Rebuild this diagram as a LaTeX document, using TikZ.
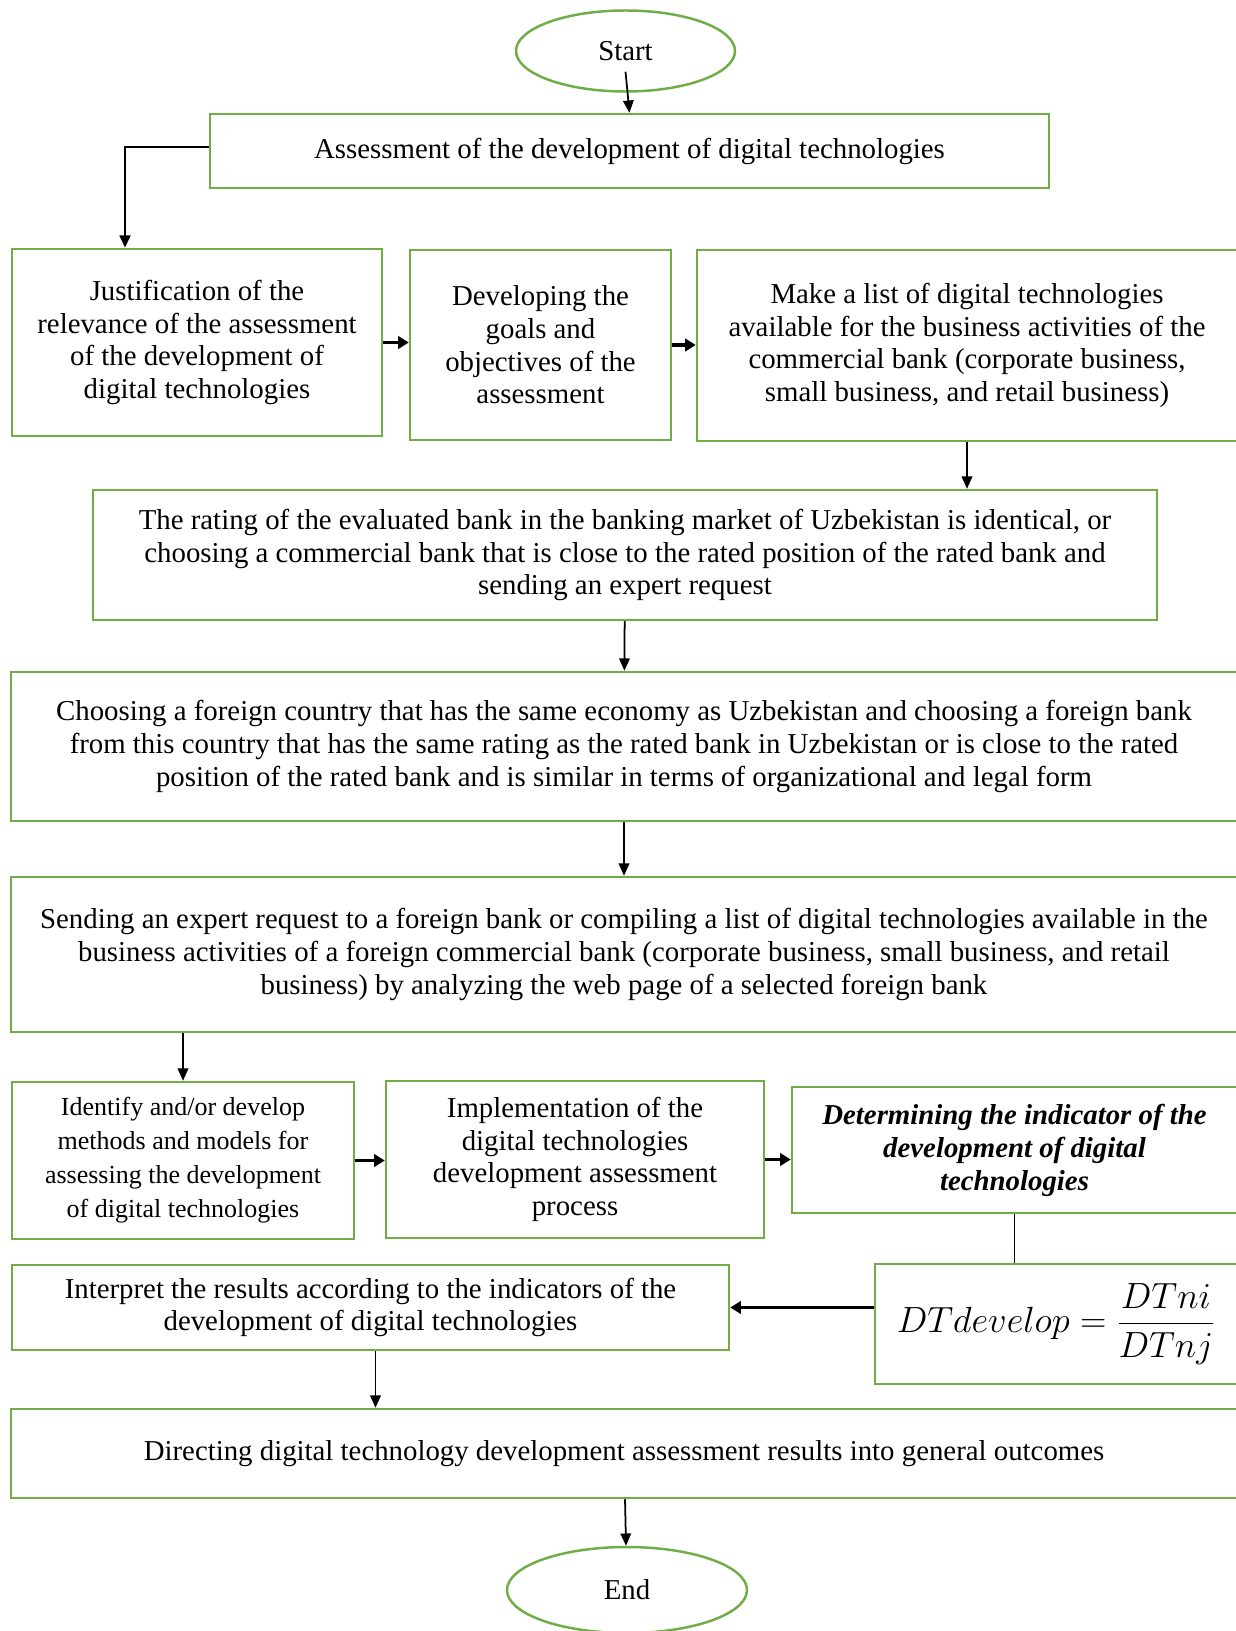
\documentclass[tikz,border=0pt]{standalone}
\usepackage{amsmath}
\usepackage{fontspec}
\setmainfont{Liberation Serif}
\usetikzlibrary{arrows.meta,positioning,shapes.geometric}

\definecolor{boxgreen}{RGB}{112,173,71}

\begin{document}
\begin{tikzpicture}[
  box/.style={draw=boxgreen, line width=1.4pt, align=center,
              font=\fontsize{16.4}{18.6}\selectfont, inner sep=2pt},
  term/.style={ellipse, draw=boxgreen, line width=1.4pt,
               font=\fontsize{16.4}{18.6}\selectfont},
  arr/.style={-{Triangle[length=7pt,width=6pt]}, line width=1pt},
  thickarr/.style={-{Triangle[length=6pt,width=7pt]}, line width=2pt},
  link/.style={line width=0.6pt}
]
  \useasboundingbox (0,0) rectangle (24.7,-32.62);

  \node[term, minimum width=4.38cm, minimum height=1.62cm]
    (start) at (12.51,-1.02) {Start};
  \node[box, minimum width=16.78cm, minimum height=1.48cm]
    (assess) at (12.59,-3.02)
    {Assessment of the development of digital technologies};

  % second row
  \node[box, minimum width=7.4cm, minimum height=3.74cm]
    (just) at (3.94,-6.85)
    {Justification of the\\relevance of the assessment\\of the development of\\digital technologies};
  \node[box, minimum width=5.22cm, minimum height=3.8cm]
    (goals) at (10.81,-6.9)
    {Developing the\\goals and\\objectives of the\\assessment};
  \node[box, minimum width=10.8cm, minimum height=3.82cm]
    (list) at (19.34,-6.91)
    {Make a list of digital technologies\\available for the business activities of the\\commercial bank (corporate business,\\small business, and retail business)};

  \node[box, minimum width=21.28cm, minimum height=2.6cm]
    (rating) at (12.5,-11.1)
    {The rating of the evaluated bank in the banking market of Uzbekistan is identical, or\\choosing a commercial bank that is close to the rated position of the rated bank and\\sending an expert request};
  \node[box, minimum width=24.52cm, minimum height=2.98cm]
    (foreign) at (12.48,-14.93)
    {Choosing a foreign country that has the same economy as Uzbekistan and choosing a foreign bank\\from this country that has the same rating as the rated bank in Uzbekistan or is close to the rated\\position of the rated bank and is similar in terms of organizational and legal form};
  \node[box, minimum width=24.52cm, minimum height=3.1cm]
    (sending) at (12.48,-19.09)
    {Sending an expert request to a foreign bank or compiling a list of digital technologies available in the\\business activities of a foreign commercial bank (corporate business, small business, and retail\\business) by analyzing the web page of a selected foreign bank};

  % fourth row
  \node[box, minimum width=6.84cm, minimum height=3.14cm,
        font=\fontsize{14.8}{19.3}\selectfont]
    (identify) at (3.66,-23.21)
    {Identify and/or develop\\methods and models for\\assessing the development\\of digital technologies};
  \node[box, minimum width=7.56cm, minimum height=3.14cm]
    (impl) at (11.5,-23.19)
    {Implementation of the\\digital technologies\\development assessment\\process};
  \node[box, minimum width=8.9cm, minimum height=2.52cm,
        font=\fontsize{16.4}{18.8}\selectfont\bfseries\itshape]
    (det) at (20.29,-23.0)
    {Determining the indicator of the\\development of digital\\technologies};

  \node[box, minimum width=7.24cm, minimum height=2.4cm,
        font=\fontsize{20.4}{24}\selectfont]
    (formula) at (21.12,-26.48)
    {$\displaystyle DTdevelop=\frac{DTni}{DTnj}$};
  \node[box, minimum width=14.34cm, minimum height=1.7cm]
    (interp) at (7.41,-26.15)
    {Interpret the results according to the indicators of the\\development of digital technologies};
  \node[box, minimum width=24.52cm, minimum height=1.78cm]
    (direct) at (12.48,-29.07)
    {Directing digital technology development assessment results into general outcomes};
  \node[term, minimum width=4.8cm, minimum height=1.72cm]
    (end) at (12.54,-31.8) {End};

  % connectors
  \draw[arr] ([yshift=0.42cm]start.south) -- (assess.north);
  \draw[arr, line width=1.6pt] ([yshift=0.08cm]assess.west) -| ([xshift=-1.44cm]just.north);
  \draw[thickarr] (just.east) -- (just.east -| goals.west);
  \draw[thickarr] (goals.east) -- (goals.east -| list.west);
  \draw[arr] (list.south) -- (list.south |- rating.north);
  \draw[arr] (rating) -- (foreign);
  \draw[arr] (foreign) -- (sending);
  \draw[arr] (sending.south -| identify) -- (identify);
  \draw[thickarr] (identify.east) -- (identify.east -| impl.west);
  \draw[thickarr] (impl.east) -- (impl.east -| det.west);
  \draw[link] (det.south) -- (det.south |- formula.north);
  \draw[thickarr] (formula.west |- interp) -- (interp.east);
  \draw[arr] ([xshift=0.1cm]interp.south) -- ([xshift=0.1cm]interp.south |- direct.north);
  \draw[arr] (direct) -- (end);
\end{tikzpicture}
\end{document}
